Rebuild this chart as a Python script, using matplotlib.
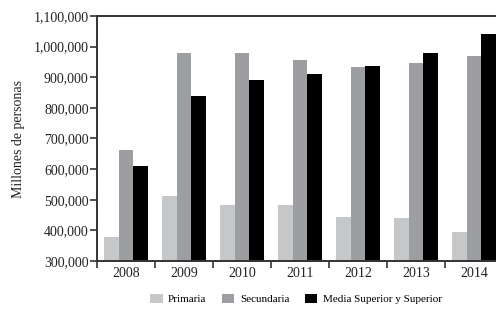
import matplotlib
matplotlib.use("Agg")
import matplotlib.pyplot as plt
from matplotlib.ticker import FuncFormatter, FixedLocator
import numpy as np

years = ["2008", "2009", "2010", "2011", "2012", "2013", "2014"]
primaria = [380000, 512000, 482000, 483000, 443000, 440000, 395000]
secundaria = [662000, 980000, 980000, 956000, 932000, 948000, 970000]
media_sup = [610000, 840000, 890000, 912000, 938000, 978000, 1042000]
series_names = ["Primaria", "Secundaria", "Media Superior y Superior"]
colors = ["#c6c7c9", "#9d9ea2", "#000000"]

plt.rcParams['font.family'] = ['Liberation Serif', 'DejaVu Serif']

fig = plt.figure(figsize=(4.96, 3.09), dpi=100)
ax = fig.add_axes([97/496, (309-261)/309, (503-97)/496, (261-16)/309])

x = np.arange(len(years))
w = 0.253
for i, (vals, name, c) in enumerate(zip([primaria, secundaria, media_sup], series_names, colors)):
    ax.bar(x + (i - 1) * w, vals, width=w, color=c, label=name, zorder=2)

ax.set_xlim(-0.5, len(years) - 0.5)
ax.set_ylim(300000, 1100000)
ax.set_yticks(np.arange(300000, 1100001, 100000))
ax.yaxis.set_major_formatter(FuncFormatter(lambda v, p: f"{int(v):,}"))
ax.set_xticks(x)
ax.set_xticklabels(years)
ax.xaxis.set_minor_locator(FixedLocator(np.arange(-0.5, len(years), 1.0)))
ax.tick_params(axis='x', which='major', length=0, labelsize=10, pad=4, colors='#222222')
ax.tick_params(axis='x', which='minor', length=5, width=1.2, direction='out', color='#333333')
ax.tick_params(axis='y', length=5, width=1.2, direction='out', labelsize=10, color='#333333', labelcolor='#222222', pad=1)

for s in ['top', 'left', 'bottom']:
    ax.spines[s].set_color('#333333')
    ax.spines[s].set_linewidth(1.4)
ax.spines['right'].set_visible(False)

ax.set_ylabel("Millones de personas", fontsize=10, color='#222222', labelpad=6)

handles, labels = ax.get_legend_handles_labels()
fig.legend(handles, labels, loc='center', bbox_to_anchor=(296/496, 1 - 299/309), ncol=3,
           frameon=False, fontsize=8, handlelength=1.1, handleheight=0.9,
           columnspacing=1.4, handletextpad=0.5)

fig.savefig("out.png", dpi=100)
